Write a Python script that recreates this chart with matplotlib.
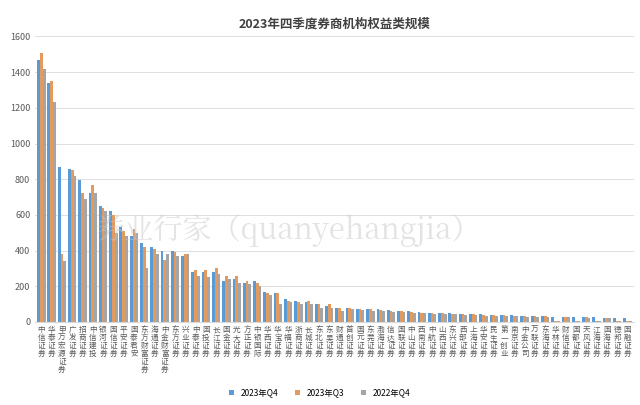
import matplotlib
matplotlib.use("Agg")
import matplotlib.pyplot as plt
import numpy as np

plt.rcParams['font.family'] = ['Noto Sans CJK SC', 'DejaVu Sans']

categories = ["中信证券","华泰证券","申万宏源证券","广发证券","招商证券","中信建投","银河证券","国信证券","平安证券","国泰君安",
 "东方财富证券","海通证券","中金财富证券","东方证券","兴业证券","中泰证券","国投证券","长江证券","国金证券","光大证券",
 "方正证券","中银国际","华西证券","华宝证券","华福证券","浙商证券","长城证券","东北证券","东吴证券","财通证券",
 "首创证券","国元证券","东莞证券","渤海证券","信达证券","国联证券","中山证券","西南证券","中航证券","山西证券",
 "东兴证券","西部证券","上海证券","华安证券","民生证券","第一创业","南京证券","中金公司","万联证券","东海证券",
 "华林证券","财信证券","国都证券","天风证券","江海证券","国海证券","德邦证券","国融证券"]
q4_2023 = [1470,1340,870,860,795,720,650,620,530,480,440,420,400,400,370,280,280,280,230,240,
 220,230,170,160,130,120,110,100,90,80,80,75,70,70,65,60,60,55,50,50,
 48,45,45,42,40,40,38,36,35,33,30,30,28,28,26,25,24,22]
q3_2023 = [1510,1350,380,850,720,770,640,600,510,520,420,410,350,390,380,290,290,300,260,260,
 230,220,160,160,120,110,120,100,100,80,78,72,70,68,62,60,58,52,50,48,
 46,44,42,40,40,38,36,35,34,32,5,30,5,28,5,24,5,5]
q4_2022 = [1420,1230,340,820,690,720,620,500,480,500,300,380,380,370,380,260,250,270,240,220,
 210,200,150,100,110,100,100,80,80,60,70,65,60,60,58,55,52,50,45,45,
 42,40,38,36,35,34,32,30,30,28,5,26,5,25,5,22,5,5]
series_names = ["2023年Q4","2023年Q3","2022年Q4"]
colors = ["#5b9bd5","#e39a5f","#a5a5a5"]

fig, ax = plt.subplots(figsize=(6.4,4.05), dpi=100)
fig.subplots_adjust(left=0.055, right=0.99, top=0.91, bottom=0.205)
x = np.arange(len(categories))
w = 0.27
for i,(vals,n,c) in enumerate(zip([q4_2023,q3_2023,q4_2022],series_names,colors)):
    ax.bar(x+(i-1)*w, vals, w, color=c, label=n)
ax.set_xlim(-0.6, len(categories)-0.4)
ax.set_ylim(0,1600)
ax.set_yticks(range(0,1601,200))
ax.tick_params(axis='y', labelsize=6.5, colors='#595959', length=0)
ax.set_xticks(x)
ax.set_xticklabels(["\n".join(c) for c in categories], fontsize=5.5, color='#595959', linespacing=1.0)
ax.tick_params(axis='x', length=0, pad=3)
ax.yaxis.grid(True, color='#d9d9d9', lw=0.6)
ax.set_axisbelow(True)
for s in ['top','right','left']:
    ax.spines[s].set_visible(False)
ax.spines['bottom'].set_color('#d9d9d9')
ax.set_title("2023年四季度券商机构权益类规模", fontsize=9, fontweight='bold', color='#404040')
fig.text(0.45, 0.41, "券业行家（quanyehangjia）", fontsize=21, color='#c8c8c8', alpha=0.5, ha='center', family=['Noto Serif CJK SC','Noto Sans CJK SC'])
fig.legend(loc='lower center', ncol=3, fontsize=6, frameon=False, handlelength=0.6, handleheight=0.6, bbox_to_anchor=(0.5,0.0))
fig.savefig("out.png")
